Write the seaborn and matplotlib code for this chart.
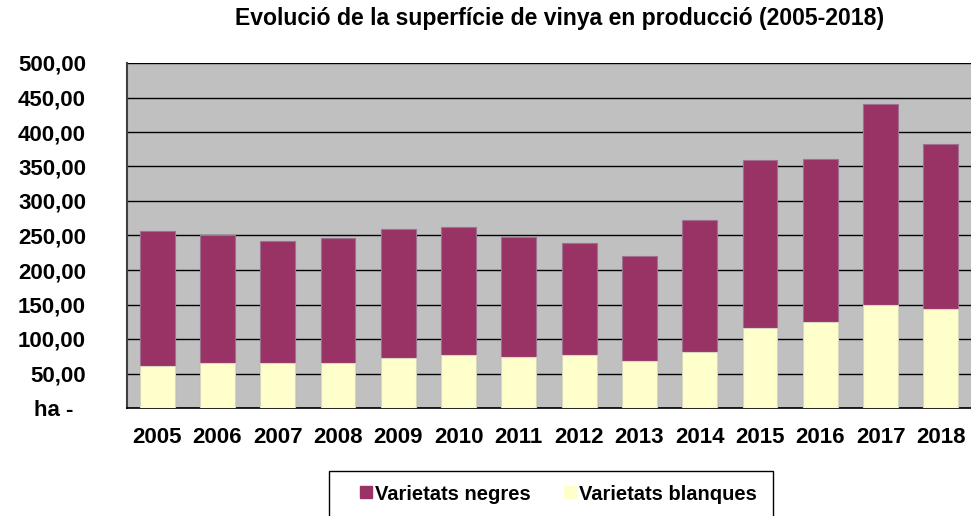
import numpy as np
import pandas as pd
import matplotlib
matplotlib.use("Agg")
import matplotlib.pyplot as plt
import matplotlib.patches as mpatches
import seaborn as sns
from matplotlib.lines import Line2D

# values (ha)
years = ["2005", "2006", "2007", "2008", "2009", "2010", "2011",
         "2012", "2013", "2014", "2015", "2016", "2017", "2018"]
blanques = [61.5, 65.0, 65.0, 65.5, 72.0, 77.0, 73.5,
            76.4, 67.8, 81.3, 116.3, 125.0, 149.0, 144.0]
totals = [256.0, 250.5, 242.0, 246.0, 259.6, 263.0, 248.0,
          239.4, 220.7, 272.6, 358.7, 361.0, 440.0, 382.0]
negres = [t - b for t, b in zip(totals, blanques)]

ytick_vals = [0, 50, 100, 150, 200, 250, 300, 350, 400, 450, 500]
ytick_labels = ["ha -  ", "50,00", "100,00", "150,00", "200,00", "250,00",
                "300,00", "350,00", "400,00", "450,00", "500,00"]

col_negres = "#993366"
col_blanques = "#FFFFCC"

sns.set_style("white")
plt.rcParams["font.family"] = ["Liberation Sans", "DejaVu Sans"]
plt.rcParams["font.weight"] = "bold"
plt.rcParams["text.color"] = "black"
plt.rcParams["xtick.color"] = "black"
plt.rcParams["ytick.color"] = "black"

df = pd.DataFrame({"any": years, "blanques": blanques, "negres": negres})
df["total"] = df["blanques"] + df["negres"]

fig = plt.figure(figsize=(9.71, 5.16), dpi=100)
ax = fig.add_axes([127 / 971, 1 - 408 / 516, 1 - 127 / 971, (408 - 63) / 516])
ax.set_facecolor("#C0C0C0")

# stacked bars: total in "negres" colour, "blanques" drawn over the bottom part
sns.barplot(data=df, x="any", y="total", color=col_negres, width=0.58,
            edgecolor="#A07090", linewidth=0.8, saturation=1, ax=ax, zorder=3)
sns.barplot(data=df, x="any", y="blanques", color=col_blanques, width=0.58,
            edgecolor="#D8D8C0", linewidth=0.8, saturation=1, ax=ax, zorder=4)

ax.set_ylim(0, 500)
ax.set_xlim(-0.5, len(years) - 0.5)
ax.set_yticks(ytick_vals)
ax.set_yticklabels(ytick_labels)
ax.yaxis.grid(True, color="black", linewidth=1.0, zorder=1)
ax.set_axisbelow(True)
ax.set_xlabel("")
ax.set_ylabel("")

ax.set_xticks(np.arange(-0.5, len(years), 1.0), minor=True)
ax.tick_params(axis="x", which="major", length=0, pad=14, labelsize=16, labelcolor="black")
ax.tick_params(axis="x", which="minor", length=6, width=1, color="black")
ax.tick_params(axis="y", length=5.5, width=1, color="black", pad=24, labelsize=16,
               labelcolor="black")
for lab in ax.get_xticklabels() + ax.get_yticklabels():
    lab.set_fontweight("bold")

for s in ["top", "right"]:
    ax.spines[s].set_visible(False)
ax.spines["left"].set_color("#404040")
ax.spines["left"].set_linewidth(1.5)
ax.spines["bottom"].set_color("black")
ax.spines["bottom"].set_linewidth(1.2)

fig.text(560 / 971, 1 - 19 / 516, "Evolució de la superfície de vinya en producció (2005-2018)",
         ha="center", va="center", fontsize=16.6, fontweight="bold", color="black")

handles = [Line2D([], [], marker="s", linestyle="", markersize=8.6, color=col_negres),
           Line2D([], [], marker="s", linestyle="", markersize=8.6, color=col_blanques)]
leg = fig.legend(handles, ["Varietats negres", "Varietats blanques"], ncol=2,
                 loc="center left", bbox_to_anchor=(360 / 971, 1 - 494 / 516),
                 frameon=False, borderpad=0, borderaxespad=0,
                 prop={"size": 14.5, "weight": "bold"}, handletextpad=0.15,
                 columnspacing=1.65, handlelength=0.6)
for t in leg.get_texts():
    t.set_color("black")
fig.add_artist(mpatches.Rectangle((329 / 971, -0.01), 444 / 971, (516 - 471) / 516 + 0.01,
                                  transform=fig.transFigure, fill=False,
                                  edgecolor="black", linewidth=1.0))

fig.savefig("out.png", dpi=100)
